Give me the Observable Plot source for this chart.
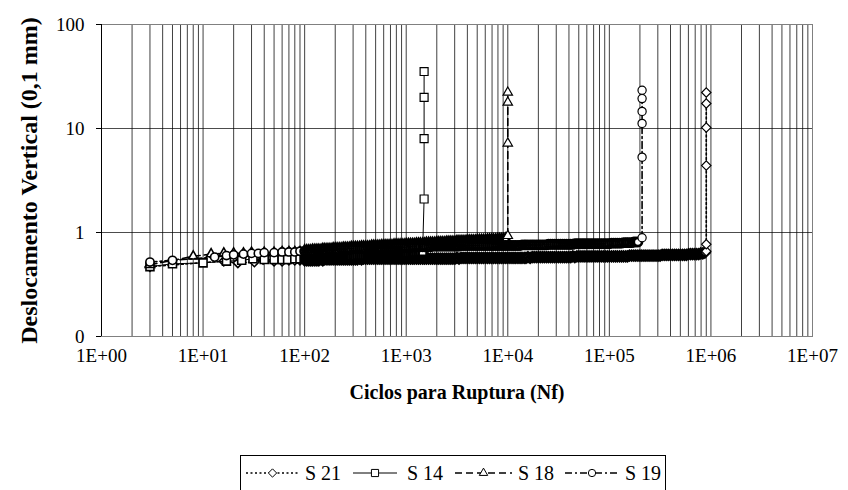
<!DOCTYPE html>
<html><head><meta charset="utf-8">
<script src="https://cdn.jsdelivr.net/npm/d3@7"></script>
<script src="https://cdn.jsdelivr.net/npm/@observablehq/plot@0.6"></script>
<style>
body{margin:0;background:#fff;}
#wrap{position:relative;width:848px;height:490px;overflow:hidden;background:#fff;font-family:"Liberation Serif","Times New Roman",serif;}
#legend{position:absolute;left:240px;top:455px;width:426px;height:60px;border:1px solid #000;box-sizing:border-box;}
[aria-label="x-axis label"] text{font-weight:bold;font-size:20px;}
[aria-label="y-axis label"] text{font-weight:bold;font-size:24px;}
</style></head><body><div id="wrap"><div id="chart"></div><div id="legend"></div></div>
<script>
// ---- data ----
const seriesNames = ["S 21", "S 14", "S 18", "S 19"];
const xTicks = [1, 10, 100, 1000, 10000, 100000, 1000000, 10000000];
const xTickLabels = ["1E+00", "1E+01", "1E+02", "1E+03", "1E+04", "1E+05", "1E+06", "1E+07"];
const yTicks = [0.1, 1, 10, 100];
const yTickLabels = ["0", "1", "10", "100"];

// reading schedule (cycles) shared by the series from 100 cycles on
const gridCycles = [
  100, 105, 110, 115, 120, 126, 132, 138, 145, 151, 158, 166, 174, 182, 191, 200, 209, 219, 229, 240, 251, 263, 275, 288, 302,
  316, 331, 347, 363, 380, 398, 417, 437, 457, 479, 501, 525, 550, 575, 603, 631, 661, 692, 724, 759, 794, 832, 871, 912, 955,
  1000, 1050, 1100, 1150, 1200, 1260, 1320, 1380, 1450, 1510, 1580, 1660, 1740, 1820, 1910, 2000, 2090, 2190, 2290, 2400, 2510, 2630, 2750, 2880, 3020,
  3160, 3310, 3470, 3630, 3800, 3980, 4170, 4370, 4570, 4790, 5010, 5250, 5500, 5750, 6030, 6310, 6610, 6920, 7240, 7590, 7940, 8320, 8710, 9120, 9550,
  10000, 10500, 11000, 11500, 12000, 12600, 13200, 13800, 14500, 15100, 15800, 16600, 17400, 18200, 19100, 20000, 20900, 21900, 22900, 24000, 25100, 26300, 27500, 28800, 30200,
  31600, 33100, 34700, 36300, 38000, 39800, 41700, 43700, 45700, 47900, 50100, 52500, 55000, 57500, 60300, 63100, 66100, 69200, 72400, 75900, 79400, 83200, 87100, 91200, 95500,
  100000, 105000, 110000, 115000, 120000, 126000, 132000, 138000, 145000, 151000, 158000, 166000, 174000, 182000, 191000, 200000, 209000, 219000, 229000, 240000, 251000, 263000, 275000, 288000, 302000,
  316000, 331000, 347000, 363000, 380000, 398000, 417000, 437000, 457000, 479000, 501000, 525000, 550000, 575000, 603000, 631000, 661000, 692000, 724000, 759000, 794000, 832000, 871000
];

// S 21
const s21EarlyCycles = [3, 16, 22, 32, 39, 50, 60, 70, 80, 90];
const s21EarlyValues = [0.47, 0.53, 0.51, 0.52, 0.55, 0.53, 0.53, 0.54, 0.54, 0.54];
const s21GridValues = [
  0.54, 0.54, 0.54, 0.54, 0.54, 0.54, 0.54, 0.54, 0.55, 0.54, 0.55, 0.55, 0.55, 0.55, 0.55, 0.55, 0.55, 0.55, 0.55, 0.55, 0.55, 0.55, 0.55, 0.55, 0.55,
  0.55, 0.55, 0.56, 0.55, 0.56, 0.56, 0.56, 0.56, 0.56, 0.56, 0.56, 0.56, 0.56, 0.56, 0.56, 0.56, 0.56, 0.56, 0.56, 0.56, 0.56, 0.56, 0.56, 0.56, 0.56,
  0.56, 0.56, 0.56, 0.56, 0.56, 0.56, 0.56, 0.56, 0.56, 0.56, 0.56, 0.56, 0.56, 0.56, 0.56, 0.56, 0.56, 0.56, 0.56, 0.56, 0.56, 0.56, 0.56, 0.56, 0.56,
  0.57, 0.56, 0.57, 0.57, 0.57, 0.57, 0.57, 0.57, 0.57, 0.57, 0.57, 0.57, 0.57, 0.57, 0.57, 0.57, 0.57, 0.57, 0.57, 0.57, 0.57, 0.57, 0.57, 0.57, 0.57,
  0.57, 0.57, 0.57, 0.57, 0.57, 0.57, 0.57, 0.57, 0.57, 0.57, 0.58, 0.57, 0.58, 0.58, 0.58, 0.58, 0.58, 0.58, 0.58, 0.58, 0.58, 0.58, 0.58, 0.58, 0.58,
  0.58, 0.58, 0.58, 0.58, 0.58, 0.58, 0.58, 0.59, 0.58, 0.59, 0.59, 0.59, 0.59, 0.59, 0.59, 0.59, 0.59, 0.59, 0.59, 0.59, 0.59, 0.59, 0.59, 0.59, 0.59,
  0.59, 0.59, 0.59, 0.59, 0.59, 0.59, 0.59, 0.59, 0.59, 0.59, 0.60, 0.60, 0.60, 0.60, 0.60, 0.60, 0.60, 0.60, 0.60, 0.60, 0.60, 0.60, 0.60, 0.60, 0.60,
  0.60, 0.61, 0.61, 0.61, 0.61, 0.61, 0.61, 0.61, 0.61, 0.61, 0.61, 0.61, 0.61, 0.61, 0.62, 0.62, 0.62, 0.62, 0.62, 0.62, 0.63, 0.63, 0.64
];
const s21FailCycle = 900000;
const s21FailValues = [0.66, 0.77, 4.4, 10.2, 17.4, 22.2];

// S 14
const s14EarlyCycles = [3, 5, 10, 17, 24, 31, 40, 50, 60, 68, 80, 90];
const s14EarlyValues = [0.47, 0.50, 0.51, 0.53, 0.54, 0.56, 0.55, 0.55, 0.55, 0.55, 0.56, 0.56];
const s14GridValues = [
  0.56, 0.56, 0.56, 0.57, 0.56, 0.57, 0.57, 0.57, 0.57, 0.57, 0.58, 0.57, 0.58, 0.58, 0.58, 0.58, 0.58, 0.59, 0.58, 0.59, 0.59, 0.59, 0.59, 0.59, 0.60,
  0.59, 0.60, 0.60, 0.60, 0.60, 0.60, 0.61, 0.60, 0.61, 0.61, 0.61, 0.61, 0.61, 0.62, 0.61, 0.62, 0.62, 0.62, 0.62, 0.62, 0.62, 0.63, 0.62, 0.63, 0.63,
  0.63, 0.63, 0.63, 0.64, 0.64, 0.64, 0.64, 0.65, 0.65
];
const s14FailCycle = 1500;
const s14FailValues = [2.1, 8.0, 19.9, 35.3];

// S 18
const s18EarlyCycles = [3, 8, 12, 16, 20, 25, 30, 40, 50, 60, 70, 80, 90];
const s18EarlyValues = [0.49, 0.59, 0.62, 0.63, 0.63, 0.63, 0.64, 0.64, 0.64, 0.65, 0.65, 0.65, 0.65];
const s18GridValues = [
  0.66, 0.66, 0.66, 0.66, 0.67, 0.67, 0.67, 0.67, 0.67, 0.68, 0.68, 0.68, 0.68, 0.68, 0.69, 0.69, 0.69, 0.69, 0.69, 0.70, 0.70, 0.70, 0.70, 0.71, 0.71,
  0.71, 0.71, 0.71, 0.72, 0.72, 0.72, 0.72, 0.72, 0.73, 0.73, 0.73, 0.73, 0.73, 0.74, 0.74, 0.74, 0.74, 0.74, 0.74, 0.75, 0.75, 0.75, 0.75, 0.75, 0.75,
  0.76, 0.76, 0.76, 0.76, 0.76, 0.77, 0.77, 0.77, 0.77, 0.77, 0.78, 0.78, 0.78, 0.78, 0.78, 0.79, 0.79, 0.79, 0.79, 0.79, 0.80, 0.80, 0.80, 0.80, 0.80,
  0.81, 0.81, 0.81, 0.81, 0.81, 0.82, 0.82, 0.82, 0.82, 0.82, 0.83, 0.83, 0.83, 0.83, 0.83, 0.84, 0.84, 0.84, 0.84, 0.84, 0.85, 0.85, 0.85, 0.85, 0.86
];
const s18FailCycle = 10000;
const s18FailValues = [0.93, 7.2, 17.8, 22.2];

// S 19
const s19EarlyCycles = [3, 5, 13, 17, 20, 25, 30, 35, 40, 50, 60, 70, 80, 90];
const s19EarlyValues = [0.52, 0.54, 0.58, 0.60, 0.61, 0.62, 0.63, 0.63, 0.64, 0.64, 0.65, 0.65, 0.65, 0.66];
const s19GridValues = [
  0.66, 0.66, 0.66, 0.66, 0.66, 0.66, 0.67, 0.67, 0.67, 0.67, 0.67, 0.67, 0.68, 0.68, 0.68, 0.68, 0.68, 0.68, 0.69, 0.69, 0.69, 0.69, 0.69, 0.69, 0.70,
  0.70, 0.70, 0.70, 0.70, 0.70, 0.70, 0.71, 0.71, 0.71, 0.71, 0.71, 0.71, 0.71, 0.71, 0.72, 0.72, 0.72, 0.72, 0.72, 0.72, 0.72, 0.72, 0.72, 0.72, 0.72,
  0.72, 0.72, 0.72, 0.73, 0.73, 0.73, 0.73, 0.73, 0.73, 0.73, 0.73, 0.73, 0.73, 0.74, 0.74, 0.74, 0.74, 0.74, 0.74, 0.74, 0.74, 0.74, 0.74, 0.74, 0.74,
  0.74, 0.74, 0.75, 0.75, 0.75, 0.75, 0.75, 0.75, 0.75, 0.75, 0.75, 0.75, 0.75, 0.75, 0.75, 0.75, 0.75, 0.75, 0.75, 0.75, 0.75, 0.75, 0.75, 0.75, 0.75,
  0.75, 0.75, 0.75, 0.75, 0.75, 0.75, 0.75, 0.76, 0.76, 0.76, 0.76, 0.76, 0.76, 0.76, 0.76, 0.76, 0.76, 0.76, 0.76, 0.76, 0.77, 0.77, 0.77, 0.77, 0.77,
  0.77, 0.77, 0.77, 0.77, 0.77, 0.77, 0.77, 0.77, 0.78, 0.78, 0.78, 0.78, 0.78, 0.78, 0.78, 0.78, 0.78, 0.78, 0.78, 0.78, 0.78, 0.78, 0.78, 0.78, 0.78,
  0.78, 0.79, 0.79, 0.79, 0.79, 0.79, 0.79, 0.80, 0.80, 0.80, 0.80, 0.80, 0.81, 0.81, 0.81
];
const s19FailCycle = 210000;
const s19FailValues = [0.89, 5.3, 11.2, 14.6, 19.4, 23.3];

// ---- build ----
function build(name, earlyC, earlyV, gridV, failC, failV) {
  const pts = earlyC.map((c, i) => ({series: name, n: c, d: earlyV[i], kind: "early"}));
  gridV.forEach((v, i) => pts.push({series: name, n: gridCycles[i], d: v, kind: "grid"}));
  failV.forEach(v => pts.push({series: name, n: failC, d: v, kind: "fail"}));
  return pts;
}
const data = {
  "S 21": build("S 21", s21EarlyCycles, s21EarlyValues, s21GridValues, s21FailCycle, s21FailValues),
  "S 14": build("S 14", s14EarlyCycles, s14EarlyValues, s14GridValues, s14FailCycle, s14FailValues),
  "S 18": build("S 18", s18EarlyCycles, s18EarlyValues, s18GridValues, s18FailCycle, s18FailValues),
  "S 19": build("S 19", s19EarlyCycles, s19EarlyValues, s19GridValues, s19FailCycle, s19FailValues)
};
const styles = {
  "S 21": {symbol: "diamond2", r: 4.2, dash: "2,2.5", lw: 1.6},
  "S 14": {symbol: "square", r: 4.5, dash: null, lw: 1},
  "S 18": {symbol: "triangle", r: 3.5, dash: "7,4", lw: 1.6},
  "S 19": {symbol: "circle", r: 4.1, dash: "7,3,2,3", lw: 1.6}
};
const kindStroke = {early: 1.6, grid: 2.7, fail: 1.2};
const xLabel = new Map(xTicks.map((t, i) => [t, xTickLabels[i]]));
const yLabel = new Map(yTicks.map((t, i) => [t, yTickLabels[i]]));

const marks = [
  Plot.gridX({ticks: 10, stroke: "#000", strokeOpacity: 0.75, strokeWidth: 1}),
  Plot.gridY({ticks: yTicks, stroke: "#000", strokeOpacity: 0.7}),
  Plot.frame({stroke: "#808080"})
];
for (const name of seriesNames) {
  const s = styles[name];
  marks.push(Plot.line(data[name], {x: "n", y: "d", stroke: "#000", strokeWidth: s.lw, strokeDasharray: s.dash}));
  for (const kind of ["early", "grid", "fail"]) {
    marks.push(Plot.dot(data[name].filter(p => p.kind === kind), {x: "n", y: "d", symbol: s.symbol, r: s.r, fill: "#fff", stroke: "#000", strokeWidth: kindStroke[kind]}));
  }
}
marks.push(
  Plot.ruleX([1], {stroke: "#000"}),
  Plot.axisY({ticks: yTicks, tickFormat: d => yLabel.get(d), tickSize: 5, tickPadding: 12, label: "Deslocamento Vertical (0,1 mm)", labelAnchor: "center", labelOffset: 82, labelArrow: "none"}),
  Plot.axisX({ticks: xTicks, tickFormat: d => xLabel.get(d), tickSize: 0, tickPadding: 12, label: "Ciclos para Ruptura (Nf)", labelAnchor: "center", labelOffset: 62, labelArrow: "none"})
);

const chart = Plot.plot({
  width: 848,
  height: 448,
  marginLeft: 101,
  marginRight: 36,
  marginTop: 24,
  marginBottom: 112,
  x: {type: "log", domain: [1, 1e7]},
  y: {type: "log", domain: [0.1, 100]},
  style: {fontFamily: "Liberation Serif", fontSize: "19px", background: "#fff", color: "#000", overflow: "visible"},
  marks
});
document.getElementById("chart").appendChild(chart);

// ---- legend ----
const legendItems = [
  {name: "S 21", x0: 5, x1: 58, tx: 64},
  {name: "S 14", x0: 112, x1: 156, tx: 166},
  {name: "S 18", x0: 214, x1: 271, tx: 277},
  {name: "S 19", x0: 324, x1: 378, tx: 384}
];
const lg = d3.select("#legend").append("svg").attr("width", 424).attr("height", 58);
const symMap = {diamond2: d3.symbolDiamond2, square: d3.symbolSquare, triangle: d3.symbolTriangle, circle: d3.symbolCircle};
for (const it of legendItems) {
  const s = styles[it.name];
  const cy = 17;
  lg.append("line").attr("x1", it.x0).attr("x2", it.x1).attr("y1", cy).attr("y2", cy)
    .attr("stroke", "#000").attr("stroke-width", s.dash ? 1.4 : 1).attr("stroke-dasharray", s.dash);
  lg.append("path").attr("d", d3.symbol(symMap[s.symbol], Math.PI * s.r * s.r * 0.8)())
    .attr("transform", `translate(${(it.x0 + it.x1) / 2},${cy})`).attr("fill", "#fff").attr("stroke", "#000");
  lg.append("text").attr("x", it.tx).attr("y", cy).attr("dy", "0.35em").attr("font-size", 20)
    .attr("font-family", "Liberation Serif").text(it.name);
}
</script></body></html>
